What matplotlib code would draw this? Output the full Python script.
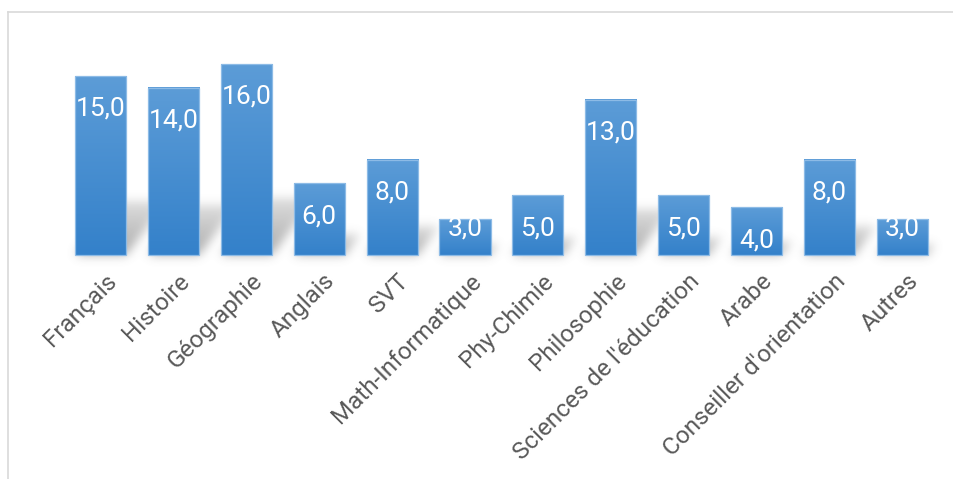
import numpy as np
import matplotlib
matplotlib.use("Agg")
import matplotlib.pyplot as plt
from matplotlib.lines import Line2D

plt.rcParams['font.family'] = ['Roboto', 'DejaVu Sans']

categories = ['Français', 'Histoire', 'Géographie', 'Anglais', 'SVT',
              'Math-Informatique', 'Phy-Chimie', 'Philosophie',
              "Sciences de l'éducation", 'Arabe', "Conseiller d'orientation",
              'Autres']
values = [15.0, 14.0, 16.0, 6.0, 8.0, 3.0, 5.0, 13.0, 5.0, 4.0, 8.0, 3.0]

W, H = 954, 479
fig = plt.figure(figsize=(W / 100, H / 100), dpi=100)
ax = fig.add_axes([0, 0, 1, 1])

# pixel geometry of the plot area
px_x0, px_step = 100.5, 72.9       # first bar centre, bar spacing
px_base, px_unit = 224.0, 11.93    # baseline from bottom, px per unit
xlim = (-px_x0 / px_step, (W - px_x0) / px_step)
ylim = (-px_base / px_unit, (H - px_base) / px_unit)
ax.set_xlim(*xlim)
ax.set_ylim(*ylim)
ax.axis('off')

x = np.arange(len(categories))
bars = ax.bar(x, values, width=0.70, color='none', edgecolor='#8dbbe6',
              linewidth=0.9, zorder=3)

# soft perspective shadow behind the bars
gx = np.linspace(xlim[0], xlim[1], W)
gy = np.linspace(ylim[0], ylim[1], H)
XX, YY = np.meshgrid(gx, gy)
shade = np.zeros_like(XX)
skew = 0.75 * px_unit / px_step
for rect, v in zip(bars, values):
    x0, w = rect.get_x(), rect.get_width()
    s = 0.30 * v
    inside = (YY >= 0) & (YY <= s) & (XX >= x0 + skew * YY) & (XX <= x0 + w + skew * YY)
    shade = np.maximum(shade, np.where(inside, 1.0 - 0.6 * YY / max(s, 1e-6), 0.0))

def blur(a, sigma):
    r = int(3 * sigma)
    k = np.exp(-0.5 * (np.arange(-r, r + 1) / sigma) ** 2)
    k /= k.sum()
    a = np.apply_along_axis(lambda m: np.convolve(m, k, mode='same'), 0, a)
    a = np.apply_along_axis(lambda m: np.convolve(m, k, mode='same'), 1, a)
    return a

shade = blur(shade, 5.0)
rgba = np.zeros((H, W, 4))
rgba[..., :3] = 0.45
rgba[..., 3] = 0.6 * shade
ax.imshow(rgba, extent=(xlim[0], xlim[1], ylim[0], ylim[1]), origin='lower',
          aspect='auto', zorder=1, interpolation='bilinear')

# vertical gradient fill for each bar
top_c = np.array([0x5c, 0x9c, 0xd7]) / 255
bot_c = np.array([0x34, 0x81, 0xca]) / 255
t = np.linspace(0, 1, 64)[:, None]
grad = (bot_c * (1 - t) + top_c * t)[:, None, :]
for rect in bars:
    x0, w, h = rect.get_x(), rect.get_width(), rect.get_height()
    ax.imshow(grad, extent=(x0, x0 + w, 0, h), origin='lower',
              aspect='auto', zorder=2, interpolation='bilinear')

# value labels inside the bars
for xi, v in zip(x, values):
    yl = v - 2.75 if v - 2.75 > 1.2 else v - 0.75
    ax.text(xi, yl, f'{v:.1f}'.replace('.', ','), ha='center', va='center',
            color='white', fontsize=19, zorder=4)

# rotated category labels
for xi, name in zip(x, categories):
    ax.text(xi + 0.17, -1.9, name, rotation=45, rotation_mode='anchor',
            ha='right', va='center', color='#595959', fontsize=17.5)

# outer frame
fig.add_artist(Line2D([8.5 / W, 8.5 / W], [0, 1 - 11.5 / H], color='#d9d9d9', lw=1.2))
fig.add_artist(Line2D([8.5 / W, 1], [1 - 11.5 / H, 1 - 11.5 / H], color='#d9d9d9', lw=1.2))

fig.savefig('out.png', dpi=100, facecolor='white')
